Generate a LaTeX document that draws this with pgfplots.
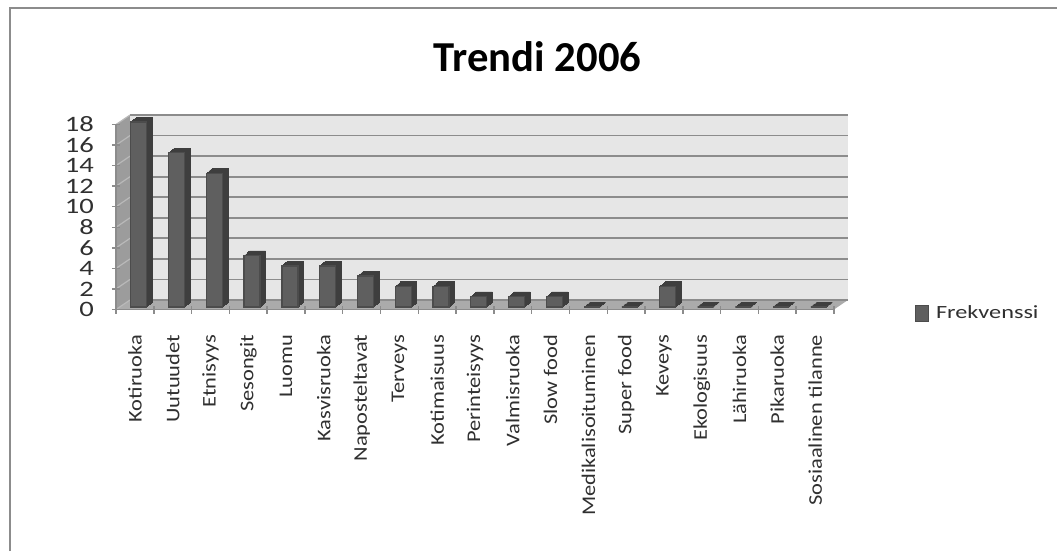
\documentclass[border=0pt]{standalone}
\usepackage{pgfplots}
\pgfplotsset{compat=1.18}
\usepackage{pgfplotstable}
\usepackage{fontspec}
\setmainfont{Carlito}
\newfontfamily\labelfont[FakeStretch=1.16]{Carlito}
\newfontfamily\widefont[FakeStretch=1.3]{Carlito}
\definecolor{wallback}{HTML}{E6E6E6}
\definecolor{wallside}{HTML}{9C9C9C}
\definecolor{floorgray}{HTML}{ABABAB}
\definecolor{gridgray}{HTML}{8C8C8C}
\definecolor{barfront}{HTML}{5F5F5F}
\definecolor{baredge}{HTML}{4C4C4C}
\definecolor{barside}{HTML}{3E3E3E}
\definecolor{textgray}{HTML}{303030}

\pgfplotstableread{
pos value
0.5 18
1.5 15
2.5 13
3.5 5
4.5 4
5.5 4
6.5 3
7.5 2
8.5 2
9.5 1
10.5 1
11.5 1
12.5 0
13.5 0
14.5 2
15.5 0
16.5 0
17.5 0
18.5 0
}\trenditable

\begin{document}
\begin{tikzpicture}[x=0.75pt,y=0.75pt]
\useasboundingbox (0,0) rectangle (1057,551);
% chart area border: top and left edges
\draw[gridgray,line width=0.9pt] (10,0) -- (10,543) -- (1057,543);
% title
\node[font=\bfseries\fontsize{32}{36}\selectfont,text=black] at (537.5,494) {Trendi 2006};
% side wall and floor of the box
\fill[wallside] (116,241.5) -- (130,251) -- (130,436) -- (116,426.5) -- cycle;
\fill[floorgray] (116,241.5) -- (834,241.5) -- (848,251) -- (130,251) -- cycle;
\foreach \g in {0,...,9} {
  \draw[gray!55!white,line width=0.9pt] (116,241.5+20.55*\g) -- (130,251+20.55*\g);
}
% back wall with its horizontal grid
\begin{axis}[
  at={(97.5pt,188.25pt)},anchor=south west,
  width=538.5pt,height=138.75pt,scale only axis,
  xmin=0,xmax=19,ymin=0,ymax=18,
  ytick={0,2,...,18},xtick=\empty,
  ymajorgrids,
  major grid style={gridgray,line width=1.3pt},
  tick style={draw=none},yticklabels={},
  axis background/.style={fill=wallback},
  axis line style={draw=none},
  clip=false]
  \draw[gridgray,line width=1.8pt] (axis cs:0,18) -- (axis cs:19,18);
\end{axis}
% bars and category axis on the front plane
\begin{axis}[
  at={(87pt,181.125pt)},anchor=south west,
  width=538.5pt,height=138.75pt,scale only axis,
  xmin=0,xmax=19,ymin=0,ymax=18,
  axis x line=bottom,axis y line=left,
  axis line style={draw=gridgray,line width=1.1pt,-},
  xtick={0.5,1.5,...,18.5},
  minor xtick={0,1,...,19},
  xticklabels={Kotiruoka,Uutuudet,Etnisyys,Sesongit,Luomu,Kasvisruoka,Napostelta\-vat,Terveys,Kotimaisuus,Perinteisyys,Valmisruoka,Slow food,Medikalisoituminen,Super food,Keveys,Ekologisuus,Lähiruoka,Pikaruoka,Sosiaalinen tilanne},
  ytick={0,2,...,18},
  x tick style={draw=none},
  minor x tick style={draw=gridgray,line width=1.1pt},
  y tick style={draw=gridgray,line width=1.1pt},
  tickwidth=6pt,
  subtickwidth=6pt,
  x tick label style={rotate=90,anchor=east,font=\labelfont\fontsize{14.5}{15}\selectfont,text=textgray},
  xticklabel shift=12.5pt,
  y tick label style={font=\widefont\fontsize{16.5}{17}\selectfont,text=textgray,xshift=-10pt},
  /pgf/number format/assume math mode=true,
  clip=false,
  legend style={at={(1.107,-0.019)},anchor=west,draw=none,fill=none,font=\widefont\fontsize{14}{15}\selectfont,text=textgray},
  ]
  \addlegendimage{legend image code/.code={\fill[barfront,draw=baredge] (0,-6pt) rectangle (9.75pt,6pt);\path[draw=none] (0,0) -- (13.5pt,0);}}
  \addlegendentry{Frekvenssi}
  % extruded depth of each bar, built up from offset copies
  \pgfplotsinvokeforeach{6,5,4,3,2,1}{
    \addplot[ybar,bar width=12pt,bar shift=2.85pt,fill=barside,draw=barside,line width=0.4pt,
      xshift=#1*0.69pt,yshift=1.9pt+#1*0.59pt,forget plot]
      table[x=pos,y=value]{\trenditable};
  }
  % front faces
  \addplot[ybar,bar width=12pt,bar shift=2.85pt,fill=barfront,draw=baredge,line width=1pt,
    yshift=1.9pt,forget plot]
    table[x=pos,y=value]{\trenditable};
\end{axis}
\end{tikzpicture}
\end{document}
